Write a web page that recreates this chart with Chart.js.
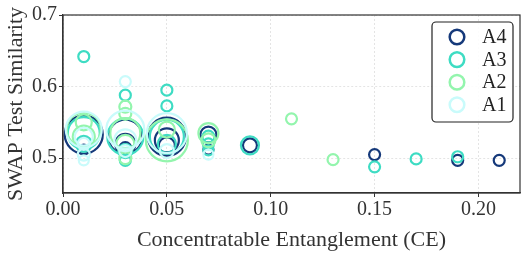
<!DOCTYPE html>
<html>
<head>
<meta charset="utf-8">
<script src="https://cdn.jsdelivr.net/npm/chart.js@4.4.0/dist/chart.umd.min.js"></script>
<style>
  html, body { margin: 0; padding: 0; background: #fff; }
  #wrap { width: 528px; height: 253px; }
</style>
</head>
<body>
<div id="wrap"><canvas id="c" width="528" height="253"></canvas></div>
<script>
// Series labels (legend order top-to-bottom)
const seriesLabels = ["A4", "A3", "A2", "A1"];
const seriesColors = ["#15397a", "#3edcc3", "#93f5ad", "#c9fbfb"];

// Each series: CE values, similarity values, marker weights
const A4_ce  = [0.01, 0.01, 0.01, 0.03, 0.03, 0.03, 0.05, 0.05, 0.05, 0.07, 0.07, 0.09, 0.15, 0.19, 0.21];
const A4_sim = [0.533, 0.520, 0.512, 0.530, 0.520, 0.514, 0.530, 0.525, 0.518, 0.533, 0.512, 0.518, 0.505, 0.497, 0.497];
const A4_w   = [19, 7, 5, 17, 10, 6, 19, 12, 8, 8, 5, 7, 5.5, 5.5, 5.5];

const A3_ce  = [0.01, 0.01, 0.01, 0.03, 0.03, 0.03, 0.03, 0.05, 0.05, 0.05, 0.05, 0.07, 0.07, 0.07, 0.09, 0.15, 0.17, 0.19];
const A3_sim = [0.642, 0.535, 0.520, 0.588, 0.530, 0.510, 0.497, 0.595, 0.573, 0.530, 0.520, 0.530, 0.520, 0.511, 0.518, 0.488, 0.499, 0.502];
const A3_w   = [5.5, 16, 8, 5.5, 18, 7, 5.5, 5.5, 5.5, 17, 9, 6, 5.5, 5, 9, 5.5, 5.5, 5.5];

const A2_ce  = [0.01, 0.01, 0.01, 0.03, 0.03, 0.03, 0.03, 0.03, 0.05, 0.05, 0.07, 0.07, 0.11, 0.13];
const A2_sim = [0.540, 0.550, 0.530, 0.572, 0.562, 0.535, 0.520, 0.500, 0.525, 0.540, 0.535, 0.525, 0.555, 0.498];
const A2_w   = [17, 8, 11, 6, 6, 15, 9, 6, 21, 8, 10, 7, 5.5, 5.5];

const A1_ce  = [0.01, 0.01, 0.01, 0.01, 0.01, 0.03, 0.03, 0.03, 0.03, 0.05, 0.05, 0.07];
const A1_sim = [0.540, 0.530, 0.520, 0.505, 0.497, 0.607, 0.540, 0.525, 0.510, 0.535, 0.510, 0.505];
const A1_w   = [18, 9, 6, 6, 5, 5.5, 19, 11, 6, 20, 7, 5];

const xTicks = [0.00, 0.05, 0.10, 0.15, 0.20];
const yTicks = [0.5, 0.6, 0.7];

function pts(xs, ys, ws) { return xs.map((x, i) => ({ x: x, y: ys[i], r: ws[i] })); }

const seriesData = {
  A4: pts(A4_ce, A4_sim, A4_w),
  A3: pts(A3_ce, A3_sim, A3_w),
  A2: pts(A2_ce, A2_sim, A2_w),
  A1: pts(A1_ce, A1_sim, A1_w)
};

// A1 drawn on top: dataset 0 is drawn last in Chart.js
const drawOrder = ["A1", "A2", "A3", "A4"];
const datasets = drawOrder.map(lbl => {
  const col = seriesColors[seriesLabels.indexOf(lbl)];
  return {
    label: lbl,
    data: seriesData[lbl],
    borderColor: col,
    backgroundColor: 'rgba(0,0,0,0)',
    borderWidth: 2.2,
    hoverRadius: 0
  };
});

const FONT = "'Liberation Serif', 'DejaVu Serif', serif";

const framePlugin = {
  id: 'frame',
  afterDraw(chart) {
    const a = chart.chartArea, ctx = chart.ctx;
    ctx.save();
    ctx.strokeStyle = '#333';
    ctx.lineWidth = 1.2;
    ctx.strokeRect(a.left, a.top, a.right - a.left, a.bottom - a.top);
    // legend
    const bx = a.right - 88, by = a.top + 7, bw = 81, bh = 100;
    ctx.beginPath();
    ctx.roundRect(bx, by, bw, bh, 4);
    ctx.fillStyle = 'rgba(255,255,255,0.9)';
    ctx.fill();
    ctx.strokeStyle = '#222';
    ctx.lineWidth = 1.2;
    ctx.stroke();
    ctx.font = "20px " + FONT;
    ctx.textBaseline = 'middle';
    ctx.textAlign = 'left';
    seriesLabels.forEach((lbl, i) => {
      const cy = by + 15 + i * 22.6;
      ctx.beginPath();
      ctx.arc(bx + 25, cy, 7.3, 0, Math.PI * 2);
      ctx.strokeStyle = seriesColors[i];
      ctx.lineWidth = 2.5;
      ctx.stroke();
      ctx.fillStyle = '#222';
      ctx.fillText(lbl, bx + 50, cy + 1);
    });
    ctx.restore();
  }
};

new Chart(document.getElementById('c'), {
  type: 'bubble',
  data: { datasets: datasets },
  options: {
    responsive: false,
    animation: false,
    events: [],
    layout: { autoPadding: false, padding: { top: 15, right: 8, left: 0, bottom: 0 } },
    plugins: { legend: { display: false }, tooltip: { enabled: false } },
    scales: {
      x: {
        type: 'linear',
        min: 0, max: 0.22,
        afterBuildTicks(scale) { scale.ticks = xTicks.map(v => ({ value: v })); },
        afterFit(scale) { scale.height = 60; },
        ticks: {
          color: '#333',
          font: { family: FONT, size: 20 },
          padding: 1,
          maxRotation: 0,
          callback: v => v.toFixed(2)
        },
        grid: { color: '#dedede', lineWidth: 0.8, tickLength: 4, tickColor: '#333', tickWidth: 1 },
        border: { display: true, color: '#333', width: 1.2, dash: [2, 2] },
        title: { display: true, text: 'Concentratable Entanglement (CE)', color: '#333', font: { family: FONT, size: 22 }, padding: { top: 0, bottom: 0 } }
      },
      y: {
        type: 'linear',
        min: 0.4514, max: 0.7,
        afterBuildTicks(scale) { scale.ticks = yTicks.map(v => ({ value: v })); },
        afterFit(scale) { scale.width = 63; },
        ticks: {
          color: '#333',
          font: { family: FONT, size: 20 },
          padding: 2,
          callback: v => v.toFixed(1)
        },
        grid: { color: '#dedede', lineWidth: 0.8, tickLength: 4, tickColor: '#333', tickWidth: 1 },
        border: { display: true, color: '#333', width: 1.2, dash: [2, 2] },
        title: { display: true, text: 'SWAP Test Similarity', color: '#333', font: { family: FONT, size: 22 }, padding: { top: 3, bottom: 0 } }
      }
    }
  },
  plugins: [framePlugin]
});
</script>
</body>
</html>
